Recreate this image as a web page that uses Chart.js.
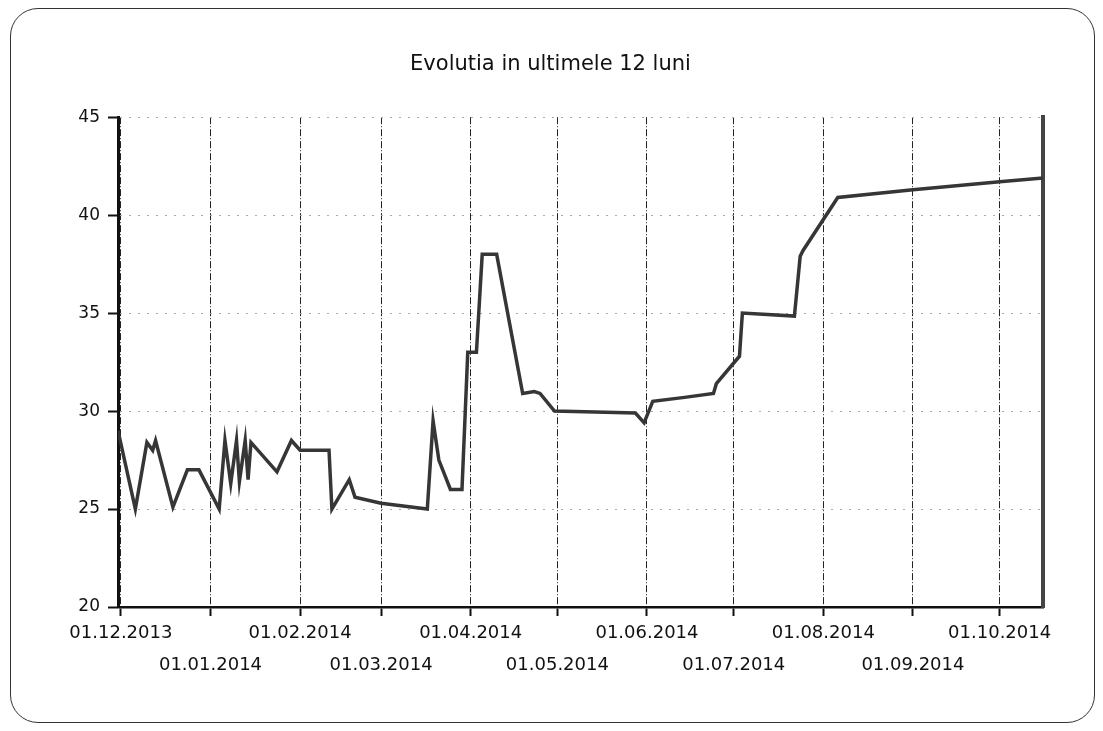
<!DOCTYPE html>
<html>
<head>
<meta charset="utf-8">
<script src="https://cdn.jsdelivr.net/npm/chart.js@4.4.0/dist/chart.umd.min.js"></script>
<style>
  body { margin: 0; background: #fff; }
  #wrap { position: relative; width: 1103px; height: 731px; }
  #frame { position: absolute; left: 10px; top: 8px; width: 1083px; height: 713px;
           border: 1.5px solid #333; border-radius: 28px; }
  #mycanvas { position: absolute; left: 0; top: 0; }
</style>
</head>
<body>
<div id="wrap">
  <div id="frame"></div>
  <canvas id="mycanvas" width="1103" height="731"></canvas>
</div>
<script>
// values
var dates = [
  '2013-11-30','2013-12-06','2013-12-10','2013-12-12','2013-12-13','2013-12-19','2013-12-24','2013-12-28',
  '2014-01-04','2014-01-06','2014-01-08','2014-01-10','2014-01-11','2014-01-13','2014-01-14','2014-01-15',
  '2014-01-24','2014-01-29','2014-02-01','2014-02-11','2014-02-12','2014-02-18','2014-02-20','2014-03-01',
  '2014-03-17','2014-03-19','2014-03-21','2014-03-25','2014-03-29','2014-03-31','2014-04-03','2014-04-05',
  '2014-04-10','2014-04-19','2014-04-23','2014-04-25','2014-04-30','2014-05-28','2014-05-31','2014-06-03',
  '2014-06-14','2014-06-24','2014-06-25','2014-07-03','2014-07-04','2014-07-22','2014-07-24','2014-07-25',
  '2014-08-06','2014-09-01','2014-10-01','2014-10-16'
];
var values = [
  29.0, 25.0, 28.4, 28.0, 28.5, 25.1, 27.0, 27.0,
  25.0, 28.5, 26.3, 28.5, 26.4, 28.5, 26.5, 28.4,
  26.9, 28.5, 28.0, 28.0, 25.0, 26.5, 25.6, 25.3,
  25.0, 29.5, 27.5, 26.0, 26.0, 33.0, 33.0, 38.0,
  38.0, 30.9, 31.0, 30.9, 30.0, 29.9, 29.4, 30.5,
  30.7, 30.9, 31.4, 32.8, 35.0, 34.85, 37.9, 38.2,
  40.9, 41.3, 41.7, 41.9
];
var tickLabels = ['01.12.2013','01.01.2014','01.02.2014','01.03.2014','01.04.2014','01.05.2014',
                  '01.06.2014','01.07.2014','01.08.2014','01.09.2014','01.10.2014'];
var chartTitle = 'Evolutia in ultimele 12 luni';

var base = Date.UTC(2013, 11, 1);
function isoToDay(s) {
  var p = s.split('-');
  return (Date.UTC(+p[0], +p[1] - 1, +p[2]) - base) / 86400000;
}
function labelToDay(s) {
  var p = s.split('.');
  return (Date.UTC(+p[2], +p[1] - 1, +p[0]) - base) / 86400000;
}

var points = [];
for (var i in dates) {
  points.push({x: isoToDay(dates[i]), y: values[i]});
}
var tickDays = tickLabels.map(labelToDay);

var ctx = document.getElementById('mycanvas');
var chart = new Chart(ctx, {
  type: 'line',
  data: {
    datasets: [{
      data: points,
      borderColor: '#363636',
      borderWidth: 3.5,
      pointRadius: 0,
      tension: 0,
      fill: false
    }]
  },
  options: {
    responsive: false,
    animation: false,
    layout: { padding: { left: 58, right: 60, top: 0, bottom: 39 } },
    plugins: {
      legend: { display: false },
      tooltip: { enabled: false },
      title: {
        display: true,
        text: chartTitle,
        color: '#111',
        font: { family: 'DejaVu Sans', size: 21, weight: 'normal', lineHeight: 1.2 },
        padding: { top: 52, bottom: 40 }
      }
    },
    scales: {
      x: {
        type: 'linear',
        min: -1,
        max: 319,
        afterBuildTicks: function(scale) {
          scale.ticks = tickDays.map(function(d) { return {value: d}; });
        },
        afterFit: function(scale) { scale.height = 85; },
        ticks: {
          autoSkip: false,
          maxRotation: 0,
          padding: 1,
          color: '#111',
          font: { family: 'DejaVu Sans', size: 18, lineHeight: 32 / 18 },
          callback: function(value, index) {
            var k = tickDays.indexOf(value);
            if (k < 0) return '';
            return k % 2 === 0 ? [tickLabels[k]] : ['', tickLabels[k]];
          }
        },
        grid: {
          color: '#222',
          lineWidth: 1,
          tickLength: 9,
          tickColor: '#111',
          tickWidth: 2,
          tickBorderDash: []
        },
        border: { color: '#111', width: 2.5, dash: [7, 2, 1, 2] }
      },
      y: {
        min: 20,
        max: 45,
        afterFit: function(scale) { scale.width = 60; },
        ticks: {
          stepSize: 5,
          padding: 8,
          color: '#111',
          font: { family: 'DejaVu Sans', size: 17 }
        },
        grid: {
          color: '#aaa',
          lineWidth: 1,
          tickLength: 10,
          tickColor: '#111',
          tickWidth: 2,
          tickBorderDash: []
        },
        border: { color: '#111', width: 3, dash: [2, 7] }
      },
      y2: {
        position: 'right',
        min: 20,
        max: 45,
        afterFit: function(scale) { scale.width = 0; },
        ticks: { display: false },
        grid: { display: false, drawTicks: false },
        border: { display: true, color: '#444', width: 4 }
      }
    }
  }
});
</script>
</body>
</html>
